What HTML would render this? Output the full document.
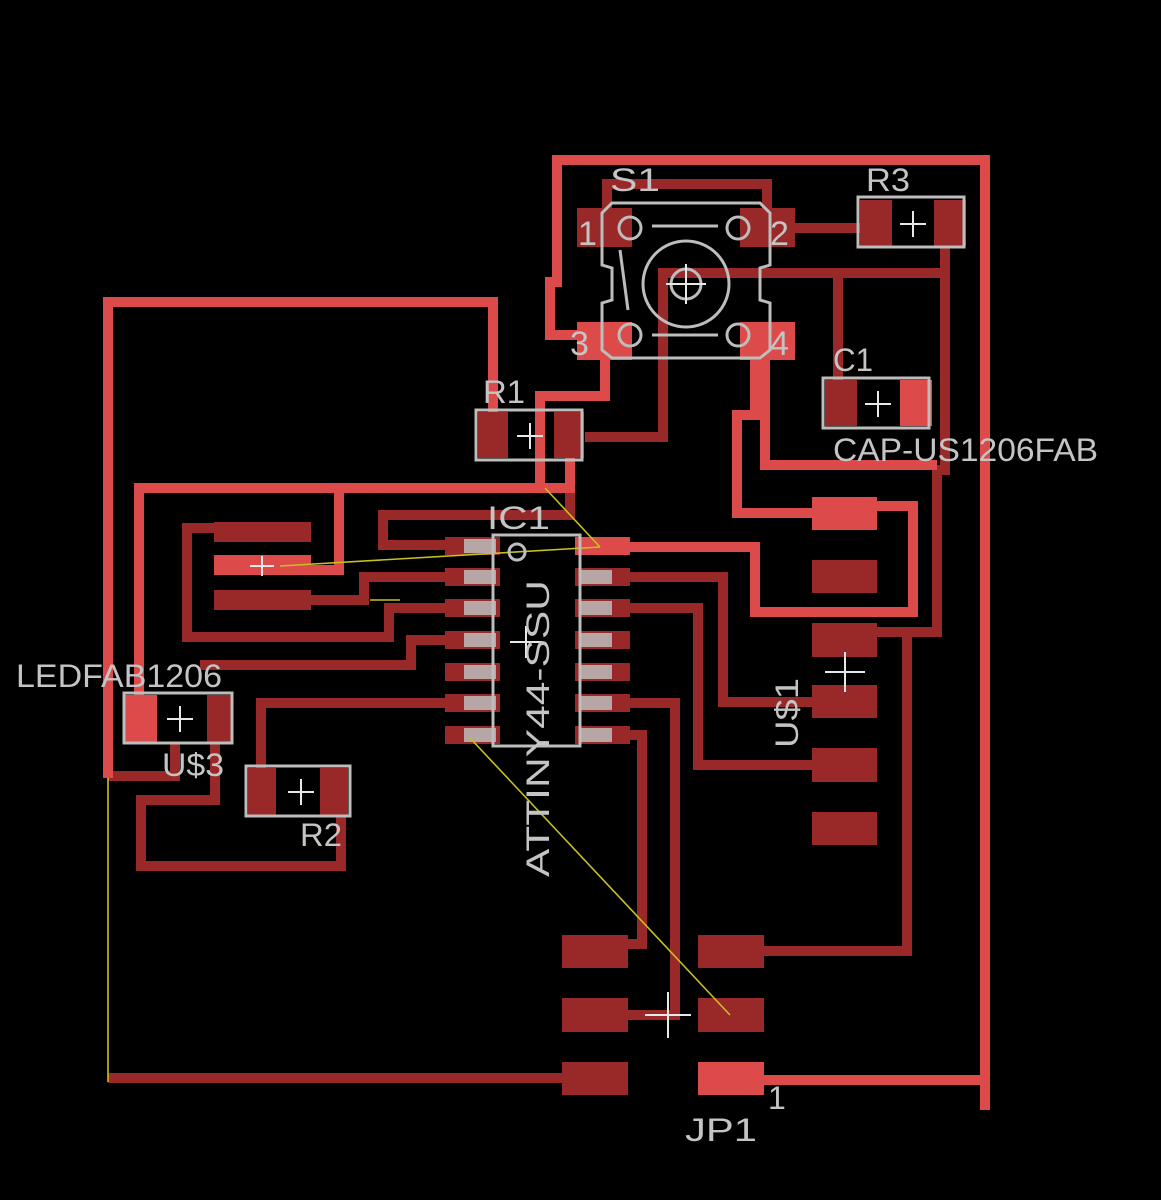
<!DOCTYPE html>
<html><head><meta charset="utf-8"><style>
html,body{margin:0;padding:0;background:#000;}
svg{display:block}
text{font-family:"Liberation Sans","DejaVu Sans",sans-serif;fill:#c4c4c4;}
</style></head><body>
<svg width="1161" height="1200" viewBox="0 0 1161 1200" xmlns="http://www.w3.org/2000/svg">
<rect width="1161" height="1200" fill="#000"/>
<g fill="none" stroke="#992828" stroke-width="10" stroke-linejoin="miter">
<polyline points="607,212 607,184 767,184 767,212"/>
<polyline points="795,228 860,228"/>
<polyline points="663,340 663,273 945,273"/>
<polyline points="945,245 945,470 937,470 937,632 877,632"/>
<polyline points="907,632 907,951 764,951"/>
<polyline points="838,273 838,385"/>
<polyline points="663,300 663,437 585,437"/>
<polyline points="570,455 570,515 383,515 383,545 445,545"/>
<polyline points="445,577 364,577 364,600 305,600"/>
<polyline points="445,608 389,608 389,637 187,637 187,528 220,528"/>
<polyline points="445,640 411,640 411,665 200,665"/>
<polyline points="445,703 261,703 261,790"/>
<polyline points="630,577 723,577 723,702 815,702"/>
<polyline points="630,608 698,608 698,765 815,765"/>
<polyline points="630,703 675,703 675,1015 628,1015"/>
<polyline points="630,735 642,735 642,944 628,944"/>
<polyline points="215,740 215,800 141,800 141,866 341,866 341,812"/>
<polyline points="108,1078 565,1078"/>
<polyline points="108,776 175,776 175,742"/>
</g>
<g fill="none" stroke="#dc4a49" stroke-width="10" stroke-linejoin="miter">
<polyline points="985,1110 985,160 557,160 557,282 550,282 550,335 590,335"/>
<polyline points="764,1080 985,1080"/>
<polyline points="108,778 108,302 493,302 493,420"/>
<polyline points="139,700 139,488 570,488 570,420"/>
<polyline points="605,350 605,396 540,396 540,488"/>
<polyline points="339,488 339,570 300,570"/>
<polyline points="600,547 755,547 755,612 913,612 913,506 877,506"/>
<polyline points="765,345 765,465 937,465"/>
<polyline points="755,350 755,415 737,415 737,513 820,513"/>
</g>
<g fill="#992828">
<rect x="577" y="208" width="55" height="39"/>
<rect x="740" y="208" width="55" height="39"/>
<rect x="860" y="200" width="32" height="46"/>
<rect x="934" y="200" width="32" height="46"/>
<rect x="478" y="412" width="30" height="46"/>
<rect x="554" y="412" width="30" height="46"/>
<rect x="825" y="380" width="32" height="46"/>
<rect x="214" y="522" width="97" height="20"/>
<rect x="214" y="590" width="97" height="20"/>
<rect x="207" y="695" width="26" height="48"/>
<rect x="248" y="768" width="28" height="47"/>
<rect x="320" y="768" width="28" height="47"/>
<rect x="812" y="560" width="65" height="33"/>
<rect x="812" y="623" width="65" height="34"/>
<rect x="812" y="685" width="65" height="33"/>
<rect x="812" y="748" width="65" height="34"/>
<rect x="812" y="812" width="65" height="33"/>
<rect x="562" y="935" width="66" height="33"/>
<rect x="562" y="998" width="66" height="34"/>
<rect x="562" y="1062" width="66" height="33"/>
<rect x="698" y="935" width="66" height="33"/>
<rect x="698" y="998" width="66" height="34"/>
</g>
<g>
<rect x="445" y="537" width="55" height="18" fill="#992828"/>
<rect x="445" y="568" width="55" height="18" fill="#992828"/>
<rect x="445" y="599" width="55" height="18" fill="#992828"/>
<rect x="445" y="631" width="55" height="18" fill="#992828"/>
<rect x="445" y="663" width="55" height="18" fill="#992828"/>
<rect x="445" y="694" width="55" height="18" fill="#992828"/>
<rect x="445" y="726" width="55" height="18" fill="#992828"/>
<rect x="575" y="537" width="55" height="18" fill="#dc4a49"/>
<rect x="575" y="568" width="55" height="18" fill="#992828"/>
<rect x="575" y="599" width="55" height="18" fill="#992828"/>
<rect x="575" y="631" width="55" height="18" fill="#992828"/>
<rect x="575" y="663" width="55" height="18" fill="#992828"/>
<rect x="575" y="694" width="55" height="18" fill="#992828"/>
<rect x="575" y="726" width="55" height="18" fill="#992828"/>
</g>
<g fill="#bdbdbd" opacity="0.85">
<rect x="464" y="539" width="32" height="14"/><rect x="464" y="570" width="32" height="14"/><rect x="464" y="601" width="32" height="14"/><rect x="464" y="633" width="32" height="14"/><rect x="464" y="665" width="32" height="14"/><rect x="464" y="696" width="32" height="14"/><rect x="464" y="728" width="32" height="14"/>
<rect x="580" y="570" width="32" height="14"/><rect x="580" y="601" width="32" height="14"/><rect x="580" y="633" width="32" height="14"/><rect x="580" y="665" width="32" height="14"/><rect x="580" y="696" width="32" height="14"/><rect x="580" y="728" width="32" height="14"/>
</g>
<g fill="#dc4a49">
<rect x="577" y="322" width="55" height="38"/>
<rect x="740" y="322" width="55" height="38"/>
<rect x="900" y="380" width="32" height="46"/>
<rect x="214" y="555" width="97" height="20"/>
<rect x="123" y="695" width="34" height="48"/>
<rect x="812" y="497" width="65" height="33"/>
<rect x="698" y="1062" width="66" height="33"/>
</g>
<g stroke="#c8c020" stroke-width="1.6" fill="none">
<polyline points="280,566 600,547"/>
<polyline points="545,488 600,547"/>
<polyline points="470,738 730,1015"/>
<polyline points="108,778 108,1082"/>
<polyline points="370,600 400,600"/>
</g>
<g stroke="#bdbdbd" stroke-width="3" fill="none">
<polygon points="612,203 760,203 770,213 770,265 760,268 760,300 770,303 770,350 760,358 612,358 602,350 602,303 612,300 612,268 602,265 602,213"/>
<circle cx="686" cy="284" r="43"/>
<circle cx="686" cy="284" r="15"/>
<circle cx="630" cy="228" r="11"/><circle cx="738" cy="228" r="11"/>
<circle cx="630" cy="335" r="11"/><circle cx="738" cy="335" r="11"/>
<line x1="652" y1="226" x2="718" y2="226"/><line x1="652" y1="335" x2="718" y2="335"/>
<line x1="620" y1="250" x2="628" y2="310"/>
<rect x="858" y="197" width="106" height="50"/>
<rect x="476" y="410" width="106" height="50"/>
<rect x="823" y="378" width="106" height="50"/>
<rect x="124" y="693" width="108" height="50"/>
<rect x="246" y="766" width="104" height="50"/>
<rect x="493" y="535" width="87" height="211"/>
<circle cx="517" cy="552" r="8"/>
</g>
<g stroke="#e8e8e8" stroke-width="2" fill="none">
<path d="M900 224h26M913 211v26"/>
<path d="M517 436h26M530 423v26"/>
<path d="M865 404h26M878 391v26"/>
<path d="M167 719h26M180 706v26"/>
<path d="M288 792h26M301 779v26"/>
<path d="M666 284h40M686 264v40"/>
<path d="M510 642h32M526 626v32"/>
<path d="M825 672h40M845 652v40"/>
<path d="M645 1015h46M668 992v46"/>
<path d="M250 566h24M262 556v20"/>
</g>
<g font-size="32">
<text x="610" y="191" textLength="50" lengthAdjust="spacingAndGlyphs">S1</text>
<text x="866" y="191" textLength="44" lengthAdjust="spacingAndGlyphs">R3</text>
<text x="578" y="245" font-size="34">1</text>
<text x="770" y="245" font-size="34">2</text>
<text x="570" y="355" font-size="34" fill="#e07070">3</text>
<text x="770" y="355" font-size="34" fill="#e07070">4</text>
<text x="483" y="403" textLength="42" lengthAdjust="spacingAndGlyphs">R1</text>
<text x="833" y="371" textLength="40" lengthAdjust="spacingAndGlyphs">C1</text>
<text x="833" y="461" textLength="265" lengthAdjust="spacingAndGlyphs">CAP-US1206FAB</text>
<text x="487" y="529" textLength="63" lengthAdjust="spacingAndGlyphs">IC1</text>
<text x="16" y="687" textLength="206" lengthAdjust="spacingAndGlyphs">LEDFAB1206</text>
<text x="162" y="776" textLength="62" lengthAdjust="spacingAndGlyphs">U$3</text>
<text x="300" y="846" textLength="42" lengthAdjust="spacingAndGlyphs">R2</text>
<text x="685" y="1141" textLength="72" lengthAdjust="spacingAndGlyphs">JP1</text>
<text x="768" y="1109">1</text>
<text transform="translate(549,877) rotate(-90)" textLength="297" lengthAdjust="spacingAndGlyphs">ATTINY44-SSU</text>
<text transform="translate(798,748) rotate(-90)" textLength="70" lengthAdjust="spacingAndGlyphs">U$1</text>
</g>
</svg>
</body></html>
